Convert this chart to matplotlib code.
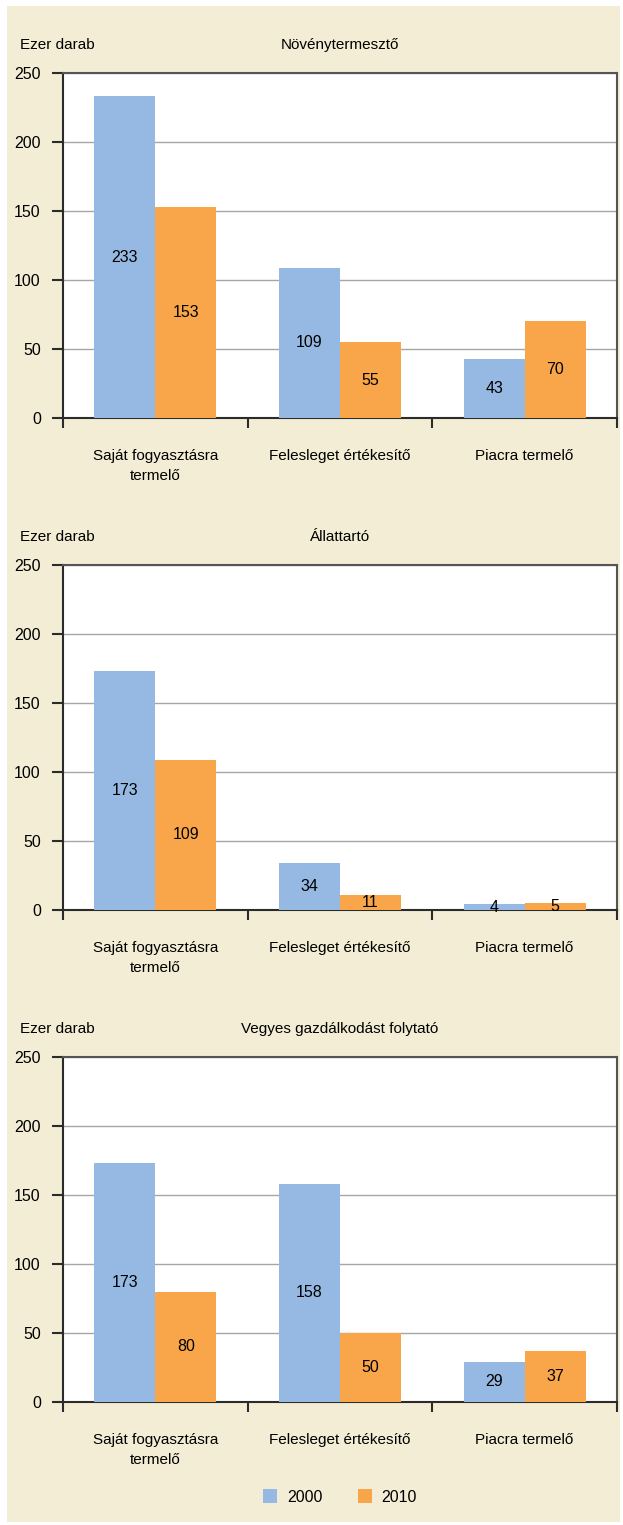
"""Three stacked grouped-bar panels: farm counts by type, 2000 vs 2010."""

import matplotlib

matplotlib.use("Agg")
import matplotlib.pyplot as plt  # noqa: E402
import numpy as np  # noqa: E402
from matplotlib.patches import Rectangle  # noqa: E402

categories = ["Saját fogyasztásra\ntermelő", "Felesleget értékesítő", "Piacra termelő"]
panel_titles = ["Növénytermesztő", "Állattartó", "Vegyes gazdálkodást folytató"]
years = ["2000", "2010"]
values_2000 = [[233, 109, 43], [173, 34, 4], [173, 158, 29]]
values_2010 = [[153, 55, 70], [109, 11, 5], [80, 50, 37]]
y_ticks = [0, 50, 100, 150, 200, 250]

BLUE = "#95B9E2"
ORANGE = "#F9A64A"
BEIGE = "#F2EDD4"
DARK = "#2b2b2b"
FS = 11

plt.rcParams["font.family"] = ["Liberation Sans", "DejaVu Sans"]

W, H = 623, 1525
fig = plt.figure(figsize=(W / 100, H / 100), dpi=100)
fig.patch.set_facecolor("white")
fig.add_artist(Rectangle((7 / W, 1 - 1522 / H), (620 - 7) / W, (1522 - 6) / H,
                         transform=fig.transFigure, facecolor=BEIGE, edgecolor="none", zorder=0))


def px_axes(left, top, right, bottom):
    return fig.add_axes([left / W, 1 - bottom / H, (right - left) / W, (bottom - top) / H])


tops = [73, 565, 1057]
x = np.arange(len(categories))
bw = 0.33
for k, top in enumerate(tops):
    ax = px_axes(63, top, 617, top + 345)
    ax.set_facecolor("white")
    b1 = ax.bar(x - bw / 2, values_2000[k], bw, color=BLUE, zorder=3, label=years[0])
    b2 = ax.bar(x + bw / 2, values_2010[k], bw, color=ORANGE, zorder=3, label=years[1])
    for bars, vals in ((b1, values_2000[k]), (b2, values_2010[k])):
        for rect, v in zip(bars, vals):
            ax.text(rect.get_x() + rect.get_width() / 2, v / 2, str(v),
                    ha="center", va="center", fontsize=FS + 0.5, color="black", zorder=4)
    ax.set_xlim(-0.5, len(categories) - 0.5)
    ax.set_ylim(0, 250)
    ax.set_yticks(y_ticks)
    ax.set_yticklabels([str(t) for t in y_ticks], fontsize=FS + 0.5)
    ax.yaxis.grid(True, color="#a6a6a6", linewidth=1, zorder=0)
    ax.set_xticks(np.arange(-0.5, len(categories)), minor=False)
    ax.set_xticklabels([])
    ax.set_xticks(x, minor=True)
    ax.set_xticklabels(categories, minor=True, fontsize=FS, linespacing=1.55)
    ax.tick_params(axis="x", which="minor", length=0, pad=22)
    ax.tick_params(axis="x", which="major", length=7, width=1.5, color=DARK, direction="out")
    ax.tick_params(axis="y", length=8, width=1.5, color=DARK, pad=8)
    for side in ("left", "right", "top", "bottom"):
        ax.spines[side].set_color(DARK)
        ax.spines[side].set_linewidth(1.5)
    ax.spines["right"].set_color("#555555")
    ax.spines["top"].set_color("#555555")
    fig.text(20 / W, 1 - (top - 28) / H, "Ezer darab", ha="left", va="center", fontsize=FS)
    fig.text(340 / W, 1 - (top - 28) / H, panel_titles[k], ha="center", va="center", fontsize=FS)
    if k == len(tops) - 1:
        handles = [b1, b2]

leg = fig.legend(handles, years, loc="center", bbox_to_anchor=(340 / W, 1 - 1497 / H),
                 ncol=2, frameon=False, fontsize=FS + 0.5, handlelength=0.9, handleheight=0.9,
                 columnspacing=2.2, handletextpad=0.6)

fig.savefig("out.png", dpi=100, facecolor=fig.get_facecolor())
